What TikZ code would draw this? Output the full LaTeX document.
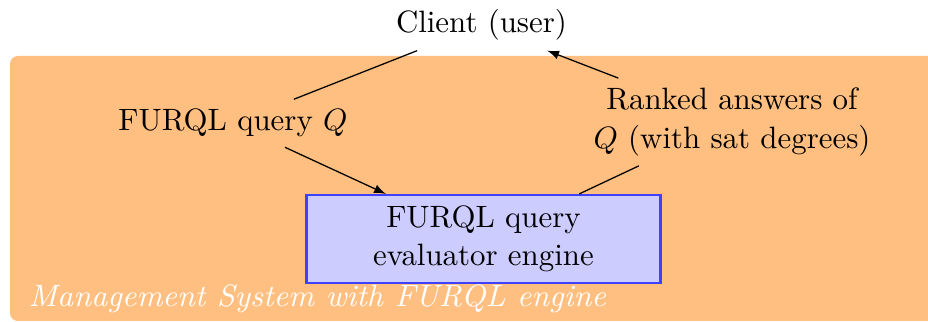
\documentclass[tikz,border=0pt]{standalone}
\usepackage{graphicx}
\usetikzlibrary{arrows.meta}
\tikzset{
  conn/.style={draw=black, line width=0.45pt},
  enginebox/.style={draw=blue!75, fill=blue!20, line width=0.8pt,
    minimum width=125.5pt, minimum height=31.2pt, align=center},
  mgmtlabel/.style={text=white, inner sep=0pt,
    font=\fontsize{10.95}{13.6}\selectfont\itshape}
}
\begin{document}
\begin{tikzpicture}[x=0.3546pt,y=-0.3546pt, font=\fontsize{10.95}{13.6}\selectfont]
\useasboundingbox (0,0) rectangle (928,322);
\clip (0,0) rectangle (928,322);
\fill[orange!50, rounded corners=2.8pt] (10,56) rectangle (960,321);
\node[anchor=base] (client) at (481.5,33) {Client (user)};
\node[anchor=base] (query) at (233,131) {FURQL query $Q$};
\node[align=center] (answers) at (732,122) {Ranked answers of\\ $Q$ (with sat degrees)};
\node[enginebox] (engine) at (483.5,239) {FURQL query\\ evaluator engine};
\node[mgmtlabel, anchor=base west] (mgmt) at (28,307) {\scalebox{1.028}[1]{Management System with FURQL engine}};
\draw[conn, -latex] (client) -- (query) -- (engine);
\draw[conn, -latex] (engine) -- (answers) -- (client);
\end{tikzpicture}
\end{document}
